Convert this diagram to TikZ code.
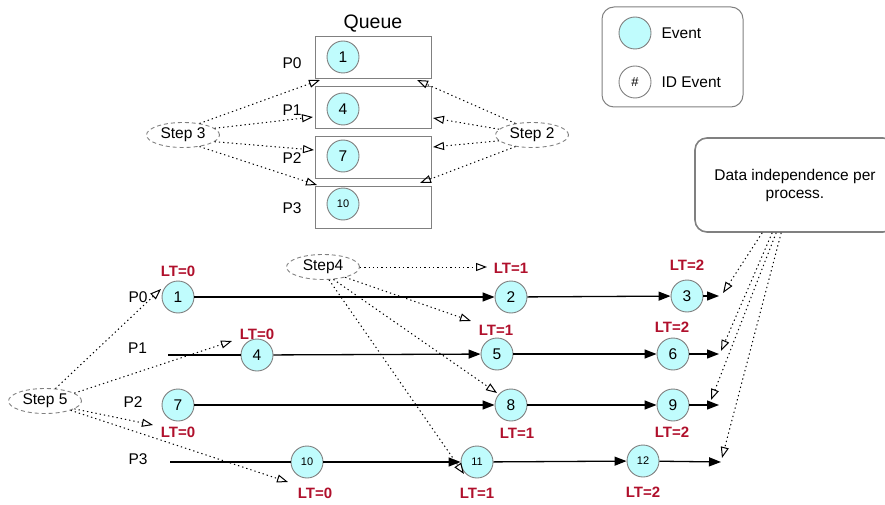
\documentclass[tikz,border=0pt]{standalone}
\usepackage{fontspec}
\setmainfont{Liberation Sans}
\usetikzlibrary{arrows.meta,shapes.geometric}
\definecolor{evfill}{HTML}{C0FCFD}
\definecolor{ltred}{HTML}{B0102C}
\definecolor{edgegray}{HTML}{808080}
\begin{document}
\begin{tikzpicture}[x=1pt,y=-1pt,
  font=\fontsize{15.5}{18}\selectfont,
  ev/.style={circle, draw=edgegray, fill=evfill, line width=0.9pt, minimum size=32pt, inner sep=0pt},
  idev/.style={circle, draw=edgegray, fill=white, line width=0.9pt, minimum size=32pt, inner sep=0pt},
  smallnum/.style={font=\fontsize{11}{13}\selectfont},
  qbox/.style={draw=edgegray, line width=1pt, minimum width=116pt, minimum height=42pt, inner sep=0pt},
  stepnode/.style={ellipse, draw=edgegray, line width=0.9pt, dash pattern=on 4pt off 3pt, minimum width=73pt, minimum height=25pt, inner sep=0pt},
  ltlab/.style={text=ltred, font=\bfseries\fontsize{15}{18}\selectfont, inner sep=1pt},
  flow/.style={line width=1.3pt, -{Triangle[length=12pt,width=9pt]}},
  plainline/.style={line width=1.3pt},
  hint/.style={line width=1pt, dash pattern=on 1.3pt off 3pt, -{Triangle[open,length=11pt,width=8pt,line width=1pt]}}
]
\useasboundingbox (0,0) rectangle (885,505);
\clip (0,0) rectangle (885,505);

% ---------- queue ----------
\node[font=\fontsize{19.5}{22}\selectfont] (qtitle) at (373,24) {Queue};
\node[qbox] (q0) at (373,58) {};
\node[qbox] (q1) at (373,107.5) {};
\node[qbox] (q2) at (373,157.5) {};
\node[qbox] (q3) at (373,207.5) {};
\node[ev] (qe1) at (343,57) {1};
\node[ev] (qe4) at (343,109) {4};
\node[ev] (qe7) at (343,156) {7};
\node[ev, smallnum] (qe10) at (343,204) {10};
\node (qp0) at (292,63) {P0};
\node (qp1) at (292,110) {P1};
\node (qp2) at (292,158) {P2};
\node (qp3) at (292,208) {P3};

\node[stepnode] (s3) at (183,135) {Step 3};
\node[stepnode] (s2) at (532,135) {Step 2};

\coordinate (t30) at (320,80);
\coordinate (t31) at (313,117);
\coordinate (t32) at (314,150);
\coordinate (t33) at (317,185);
\coordinate (t20) at (417,80);
\coordinate (t21) at (433,118);
\coordinate (t22) at (433,147);
\coordinate (t23) at (420,183);

\draw[hint] (s3.35) -- (t30);
\draw[hint] (s3.12) -- (t31);
\draw[hint] (s3.-12) -- (t32);
\draw[hint] (s3.-35) -- (t33);
\draw[hint] (s2.145) -- (t20);
\draw[hint] (s2.170) -- (t21);
\draw[hint] (s2.190) -- (t22);
\draw[hint] (s2.215) -- (t23);

% ---------- legend ----------
\node[draw=edgegray, line width=1pt, rounded corners=12pt, minimum width=141pt, minimum height=100pt] (legend) at (672.5,57) {};
\node[ev] (lgev) at (635,33) {};
\node[anchor=west] (lgevtxt) at (658,33) {Event};
\node[idev, font=\fontsize{13}{15}\selectfont] (lgid) at (635,82) {\#};
\node[anchor=west] (lgidtxt) at (658,82) {ID Event};

% ---------- note ----------
\node[draw=edgegray, line width=1.6pt, rounded corners=12pt, minimum width=200pt, minimum height=94pt, align=center] (dat) at (795,185) {Data independence per\\process.};

% ---------- timelines ----------
\node (p0) at (138,297) {P0};
\node (p1) at (137.5,348) {P1};
\node (p2) at (133,402) {P2};
\node (p3) at (138,459) {P3};

\node[ev] (e1) at (178,297) {1};
\node[ev] (e2) at (511,297) {2};
\node[ev] (e3) at (687,296) {3};
\node[ev] (e4) at (257,355) {4};
\node[ev] (e5) at (497,354) {5};
\node[ev] (e6) at (673,354) {6};
\node[ev] (e7) at (178,405) {7};
\node[ev] (e8) at (511,405) {8};
\node[ev] (e9) at (673,405) {9};
\node[ev, smallnum] (e10) at (307,462) {10};
\node[ev, smallnum] (e11) at (477,462) {11};
\node[ev, smallnum] (e12) at (643,461) {12};

\coordinate (p1s) at (168,355);
\coordinate (p3s) at (170,462);
\coordinate (end0) at (719,296);
\coordinate (end1) at (719,354);
\coordinate (end2) at (719,405);
\coordinate (end3) at (721,462);

\draw[flow] (e1) -- (e2);
\draw[flow] (e2) -- (e3);
\draw[flow] (e3) -- (end0);
\draw[plainline] (p1s) -- (e4);
\draw[flow] (e4) -- (e5);
\draw[flow] (e5) -- (e6);
\draw[flow] (e6) -- (end1);
\draw[flow] (e7) -- (e8);
\draw[flow] (e8) -- (e9);
\draw[flow] (e9) -- (end2);
\draw[plainline] (p3s) -- (e10);
\draw[flow] (e10) -- (e11);
\draw[flow] (e11) -- (e12);
\draw[flow] (e12) -- (end3);

% ---------- logical time labels ----------
\node[ltlab] (lt1) at (178,271) {LT=0};
\node[ltlab] (lt4) at (257,334) {LT=0};
\node[ltlab] (lt7) at (178,432) {LT=0};
\node[ltlab] (lt10) at (315,493) {LT=0};
\node[ltlab] (lt2) at (511,268) {LT=1};
\node[ltlab] (lt5) at (496,330) {LT=1};
\node[ltlab] (lt8) at (517,433) {LT=1};
\node[ltlab] (lt11) at (477,493) {LT=1};
\node[ltlab] (lt3) at (687,265) {LT=2};
\node[ltlab] (lt6) at (672,327) {LT=2};
\node[ltlab] (lt9) at (672,432) {LT=2};
\node[ltlab] (lt12) at (643,492) {LT=2};

% ---------- steps 4 and 5 ----------
\node[stepnode] (s4) at (323,267) {Step4};
\node[stepnode] (s5) at (45,401) {Step 5};

\coordinate (t40) at (487,267);
\coordinate (t41) at (471,321);
\coordinate (t42) at (497,393);
\coordinate (t43) at (464,474);
\coordinate (t50) at (161,289);
\coordinate (t51) at (232,341);
\coordinate (t52) at (153,425);
\coordinate (t53) at (288,482);

\draw[hint] (s4.east) -- (t40);
\draw[hint] (s4.-25) -- (t41);
\draw[hint] (s4.-50) -- (t42);
\draw[hint] (s4.-65) -- (t43);
\draw[hint] (s5.50) -- (t50);
\draw[hint] (s5.15) -- (t51);
\draw[hint] (s5.-15) -- (t52);
\draw[hint] (s5.-20) -- (t53);

% ---------- note pointers ----------
\coordinate (d0) at (723,293);
\coordinate (d1) at (721,351);
\coordinate (d2) at (711,400);
\coordinate (d3) at (722,458);
\draw[hint] ([xshift=68pt]dat.south west) -- (d0);
\draw[hint] ([xshift=78pt]dat.south west) -- (d1);
\draw[hint] ([xshift=82pt]dat.south west) -- (d2);
\draw[hint] ([xshift=87pt]dat.south west) -- (d3);
\end{tikzpicture}
\end{document}
